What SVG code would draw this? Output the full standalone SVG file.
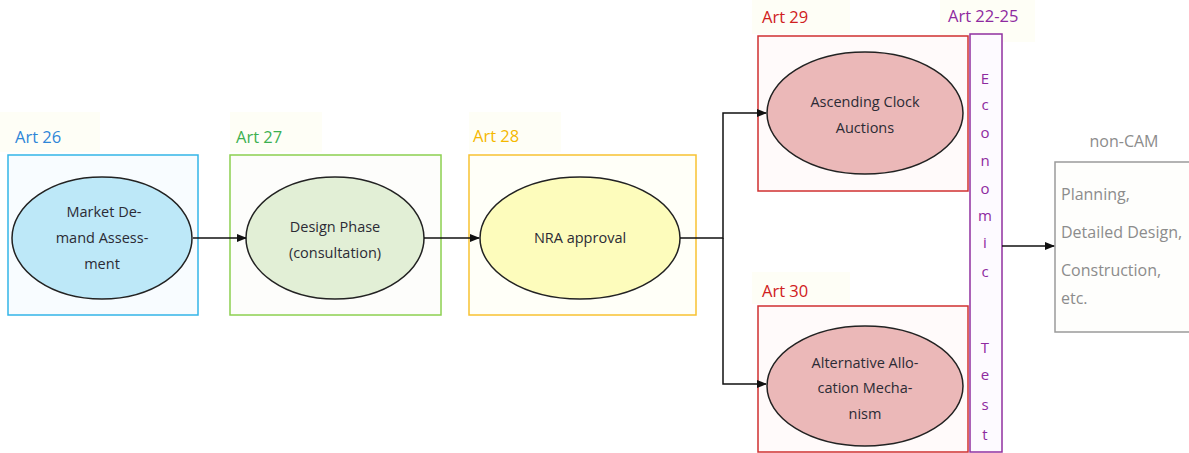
<svg xmlns="http://www.w3.org/2000/svg" width="1189" height="453" viewBox="0 0 1189 453">
<defs>
<marker id="arr" markerWidth="10" markerHeight="8" refX="9" refY="4" orient="auto" markerUnits="userSpaceOnUse">
<path d="M0,0 L10,4 L0,8 Z" fill="#111"/>
</marker>
<style>
.lbl{font-family:"Open Sans","Liberation Sans",sans-serif;font-size:16.5px}
.t{font-family:"Open Sans","Liberation Sans",sans-serif;font-size:14.5px;fill:#2b2b35;text-anchor:middle}
.el{stroke:#222;stroke-width:1.5}
.bg{fill:#fefef6}
.conn{stroke:#111;stroke-width:1.5;fill:none}
.v{font-family:"Open Sans","Liberation Sans",sans-serif;font-size:15px;fill:#8e2aa0;text-anchor:middle}
.g{font-family:"Open Sans","Liberation Sans",sans-serif;font-size:16px;fill:#8c8c8c}
</style>
</defs>
<rect width="1189" height="453" fill="#fff"/>
<g id="labelbg">
<rect class="bg" x="0" y="112" width="100" height="40"/>
<rect class="bg" x="230" y="112" width="92" height="40"/>
<rect class="bg" x="469" y="112" width="92" height="40"/>
<rect class="bg" x="752" y="0" width="98" height="34"/>
<rect class="bg" x="940" y="0" width="95" height="42"/>
<rect class="bg" x="752" y="272" width="98" height="32"/>
</g>
<g id="art26">
<text class="lbl" x="15" y="143" fill="#2e86d8">Art 26</text>
<rect x="8" y="155" width="190" height="160" fill="#f8fcff" stroke="#33b5e8" stroke-width="1.5"/>
<ellipse class="el" cx="102" cy="238" rx="90" ry="61" fill="#bde8f8"/>
<text class="t" x="104" y="217">Market De-</text>
<text class="t" x="102" y="243">mand Assess-</text>
<text class="t" x="102" y="269">ment</text>
</g>
<g id="art27">
<text class="lbl" x="236" y="143" fill="#3cb050">Art 27</text>
<rect x="230" y="155" width="211" height="160" fill="#fdfdfb" stroke="#8cd050" stroke-width="1.5"/>
<ellipse class="el" cx="335" cy="238" rx="89" ry="61" fill="#e2efd6"/>
<text class="t" x="335" y="232">Design Phase</text>
<text class="t" x="335" y="258">(consultation)</text>
</g>
<g id="art28">
<text class="lbl" x="473" y="142" fill="#f5b800">Art 28</text>
<rect x="469" y="155" width="227" height="160" fill="#fffff8" stroke="#f8c232" stroke-width="1.5"/>
<ellipse class="el" cx="580" cy="238" rx="100" ry="61" fill="#fdfcbc"/>
<text class="t" x="580" y="243">NRA approval</text>
</g>
<g id="art29">
<text class="lbl" x="762" y="23" fill="#d02020">Art 29</text>
<rect x="758" y="36" width="210" height="155" fill="#fffafa" stroke="#d03030" stroke-width="1.5"/>
<ellipse class="el" cx="865" cy="113" rx="98" ry="61" fill="#ebb8b8"/>
<text class="t" x="865" y="107">Ascending Clock</text>
<text class="t" x="865" y="133">Auctions</text>
</g>
<g id="art30">
<text class="lbl" x="762" y="297" fill="#d02020">Art 30</text>
<rect x="758" y="306" width="210" height="146" fill="#fffafa" stroke="#d03030" stroke-width="1.5"/>
<ellipse class="el" cx="865" cy="386" rx="98" ry="60" fill="#ebb8b8"/>
<text class="t" x="865" y="368">Alternative Allo-</text>
<text class="t" x="865" y="393">cation Mecha-</text>
<text class="t" x="865" y="419">nism</text>
</g>
<g id="art2225">
<text class="lbl" x="948" y="22" fill="#8e2aa0">Art 22-25</text>
<rect x="970" y="34" width="32" height="418" fill="#fdfaff" stroke="#9030a0" stroke-width="1.5"/>
<text class="v" x="985" y="84">E</text>
<text class="v" x="985" y="110">c</text>
<text class="v" x="985" y="138">o</text>
<text class="v" x="985" y="166">n</text>
<text class="v" x="985" y="194">o</text>
<text class="v" x="985" y="221">m</text>
<text class="v" x="985" y="248">i</text>
<text class="v" x="985" y="277">c</text>
<text class="v" x="985" y="353">T</text>
<text class="v" x="985" y="380">e</text>
<text class="v" x="985" y="410">s</text>
<text class="v" x="985" y="440">t</text>
</g>
<g id="noncam">
<text class="g" x="1124" y="147" text-anchor="middle">non-CAM</text>
<rect x="1055" y="162" width="140" height="170" fill="#fefefc" stroke="#9a9a9a" stroke-width="1.5"/>
<text class="g" x="1061" y="200">Planning,</text>
<text class="g" x="1061" y="238">Detailed Design,</text>
<text class="g" x="1061" y="276">Construction,</text>
<text class="g" x="1061" y="304">etc.</text>
</g>
<g id="connectors">
<path class="conn" d="M193,238 H246" marker-end="url(#arr)"/>
<path class="conn" d="M424,238 H479" marker-end="url(#arr)"/>
<path class="conn" d="M680,238 H723 V113 H766" marker-end="url(#arr)"/>
<path class="conn" d="M723,238 V384 H766" marker-end="url(#arr)"/>
<path class="conn" d="M1002,246 H1054" marker-end="url(#arr)"/>
</g>
</svg>
